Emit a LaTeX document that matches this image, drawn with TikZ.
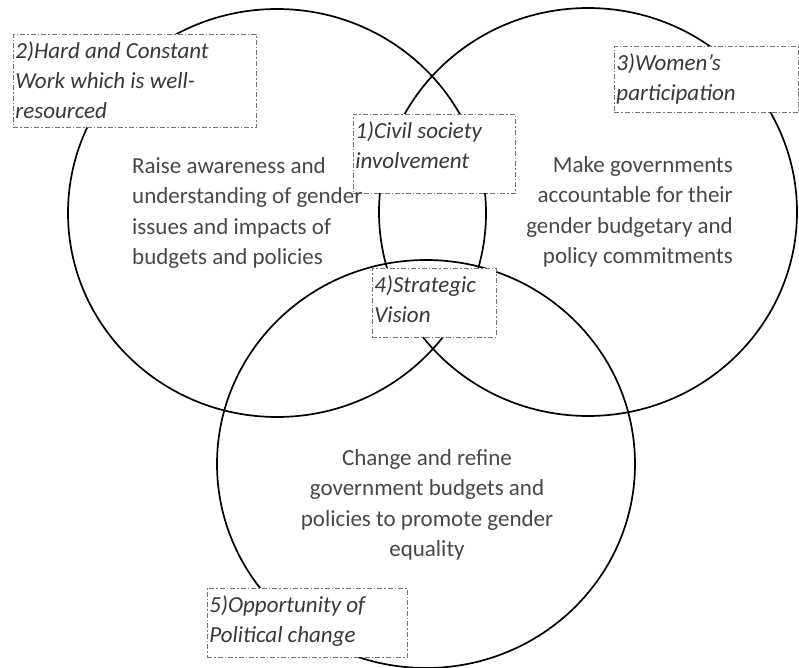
\documentclass[tikz,border=0pt]{standalone}
\usepackage{fontspec}
\setmainfont{Carlito}
\usetikzlibrary{shapes.geometric}
\newcommand{\fls}{\rule{0pt}{22pt}}
\begin{document}
\begin{tikzpicture}[x=1pt,y=-1pt,
  ring/.style={ellipse, draw=black, line width=1.7pt, inner sep=0pt, outer sep=0pt,
    minimum width=418pt, minimum height=408pt},
  lbox/.style={draw=black!55, fill=white, line width=0.9pt,
    dash pattern=on 5pt off 2pt on 1.5pt off 2pt,
    inner xsep=2pt, inner ysep=2pt, anchor=north west,
    font=\fontsize{23}{30}\selectfont\itshape, text=black!78},
  body/.style={inner sep=0pt, font=\fontsize{23}{30.5}\selectfont, text=black!72}]
\useasboundingbox (0,0) rectangle (799,668);
\node[ring] (L) at (277,213) {};
\node[ring] (R) at (588,212) {};
\node[ring] (B) at (426,464) {};
\node[lbox] (b2) at (13,34) {\parbox[c][89pt][t]{239pt}{\fls 2)Hard and Constant\\Work which is well-\\resourced}};
\node[lbox] (b1) at (353,114) {\parbox[c][75pt][t]{158pt}{\fls 1)Civil society\\involvement}};
\node[lbox] (b3) at (614,46) {\parbox[c][62pt][t]{180pt}{\fls 3)Women’s\\participation}};
\node[lbox] (b4) at (372,268) {\parbox[c][65pt][t]{120pt}{\fls 4)Strategic\\Vision}};
\node[lbox] (b5) at (207,588) {\parbox[c][65pt][t]{196pt}{\fls 5)Opportunity of\\Political change}};
\node[body, align=left, anchor=west] (tL) at (132,213) {Raise awareness and\\understanding of gender\\issues and impacts of\\budgets and policies};
\node[body, align=right, anchor=east] (tR) at (733,212) {Make governments\\accountable for their\\gender budgetary and\\policy commitments};
\node[body, align=center] (tB) at (427,505) {Change and refine\\government budgets and\\policies to promote gender\\equality};
\end{tikzpicture}
\end{document}
